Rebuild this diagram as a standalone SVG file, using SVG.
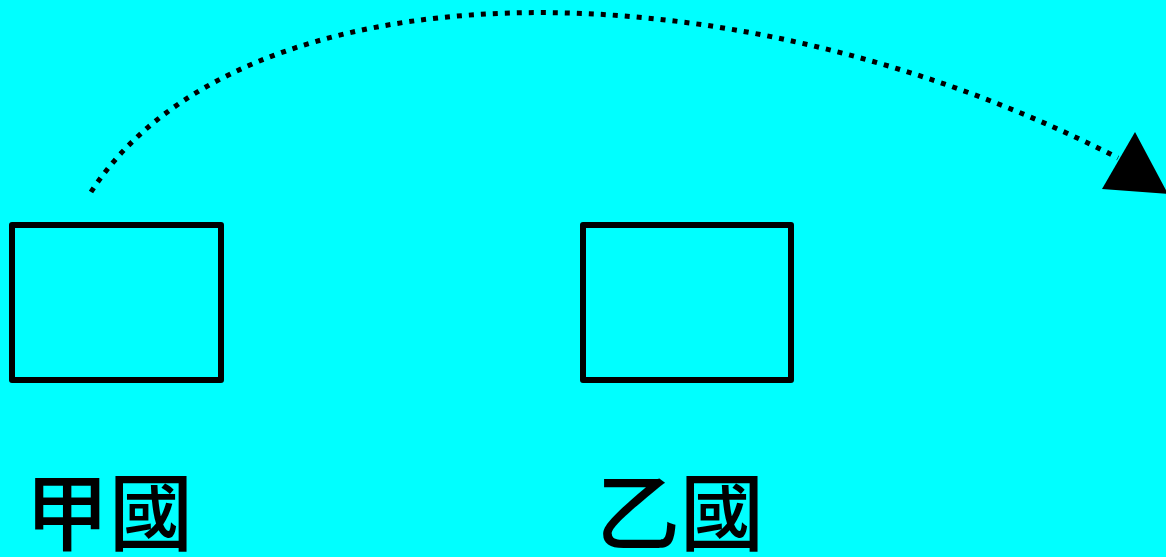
<svg xmlns="http://www.w3.org/2000/svg" width="1166" height="557" viewBox="0 0 1166 557">
<style>
.box{fill:none;stroke:#000;stroke-width:6;stroke-linejoin:round}
.lbl{font-family:"Noto Sans CJK TC","Noto Sans CJK SC",sans-serif;font-size:84px;font-weight:500;fill:#000}
.conn{fill:none;stroke:#000;stroke-width:5;stroke-dasharray:5 7}
</style>
<rect width="1166" height="557" fill="#00ffff"/>
<g id="node-jia">
<rect class="box" x="12" y="225" width="209" height="155"/>
<text class="lbl" x="25" y="544">甲國</text>
</g>
<g id="node-yi">
<rect class="box" x="583" y="225" width="208" height="155"/>
<text class="lbl" x="596" y="544">乙國</text>
</g>
<g id="connectors">
<path class="conn" d="M91,192 C238,-36 720,-46 1118,158"/>
<polygon points="1135,132 1102,189 1168,194" fill="#000"/>
</g>
</svg>
